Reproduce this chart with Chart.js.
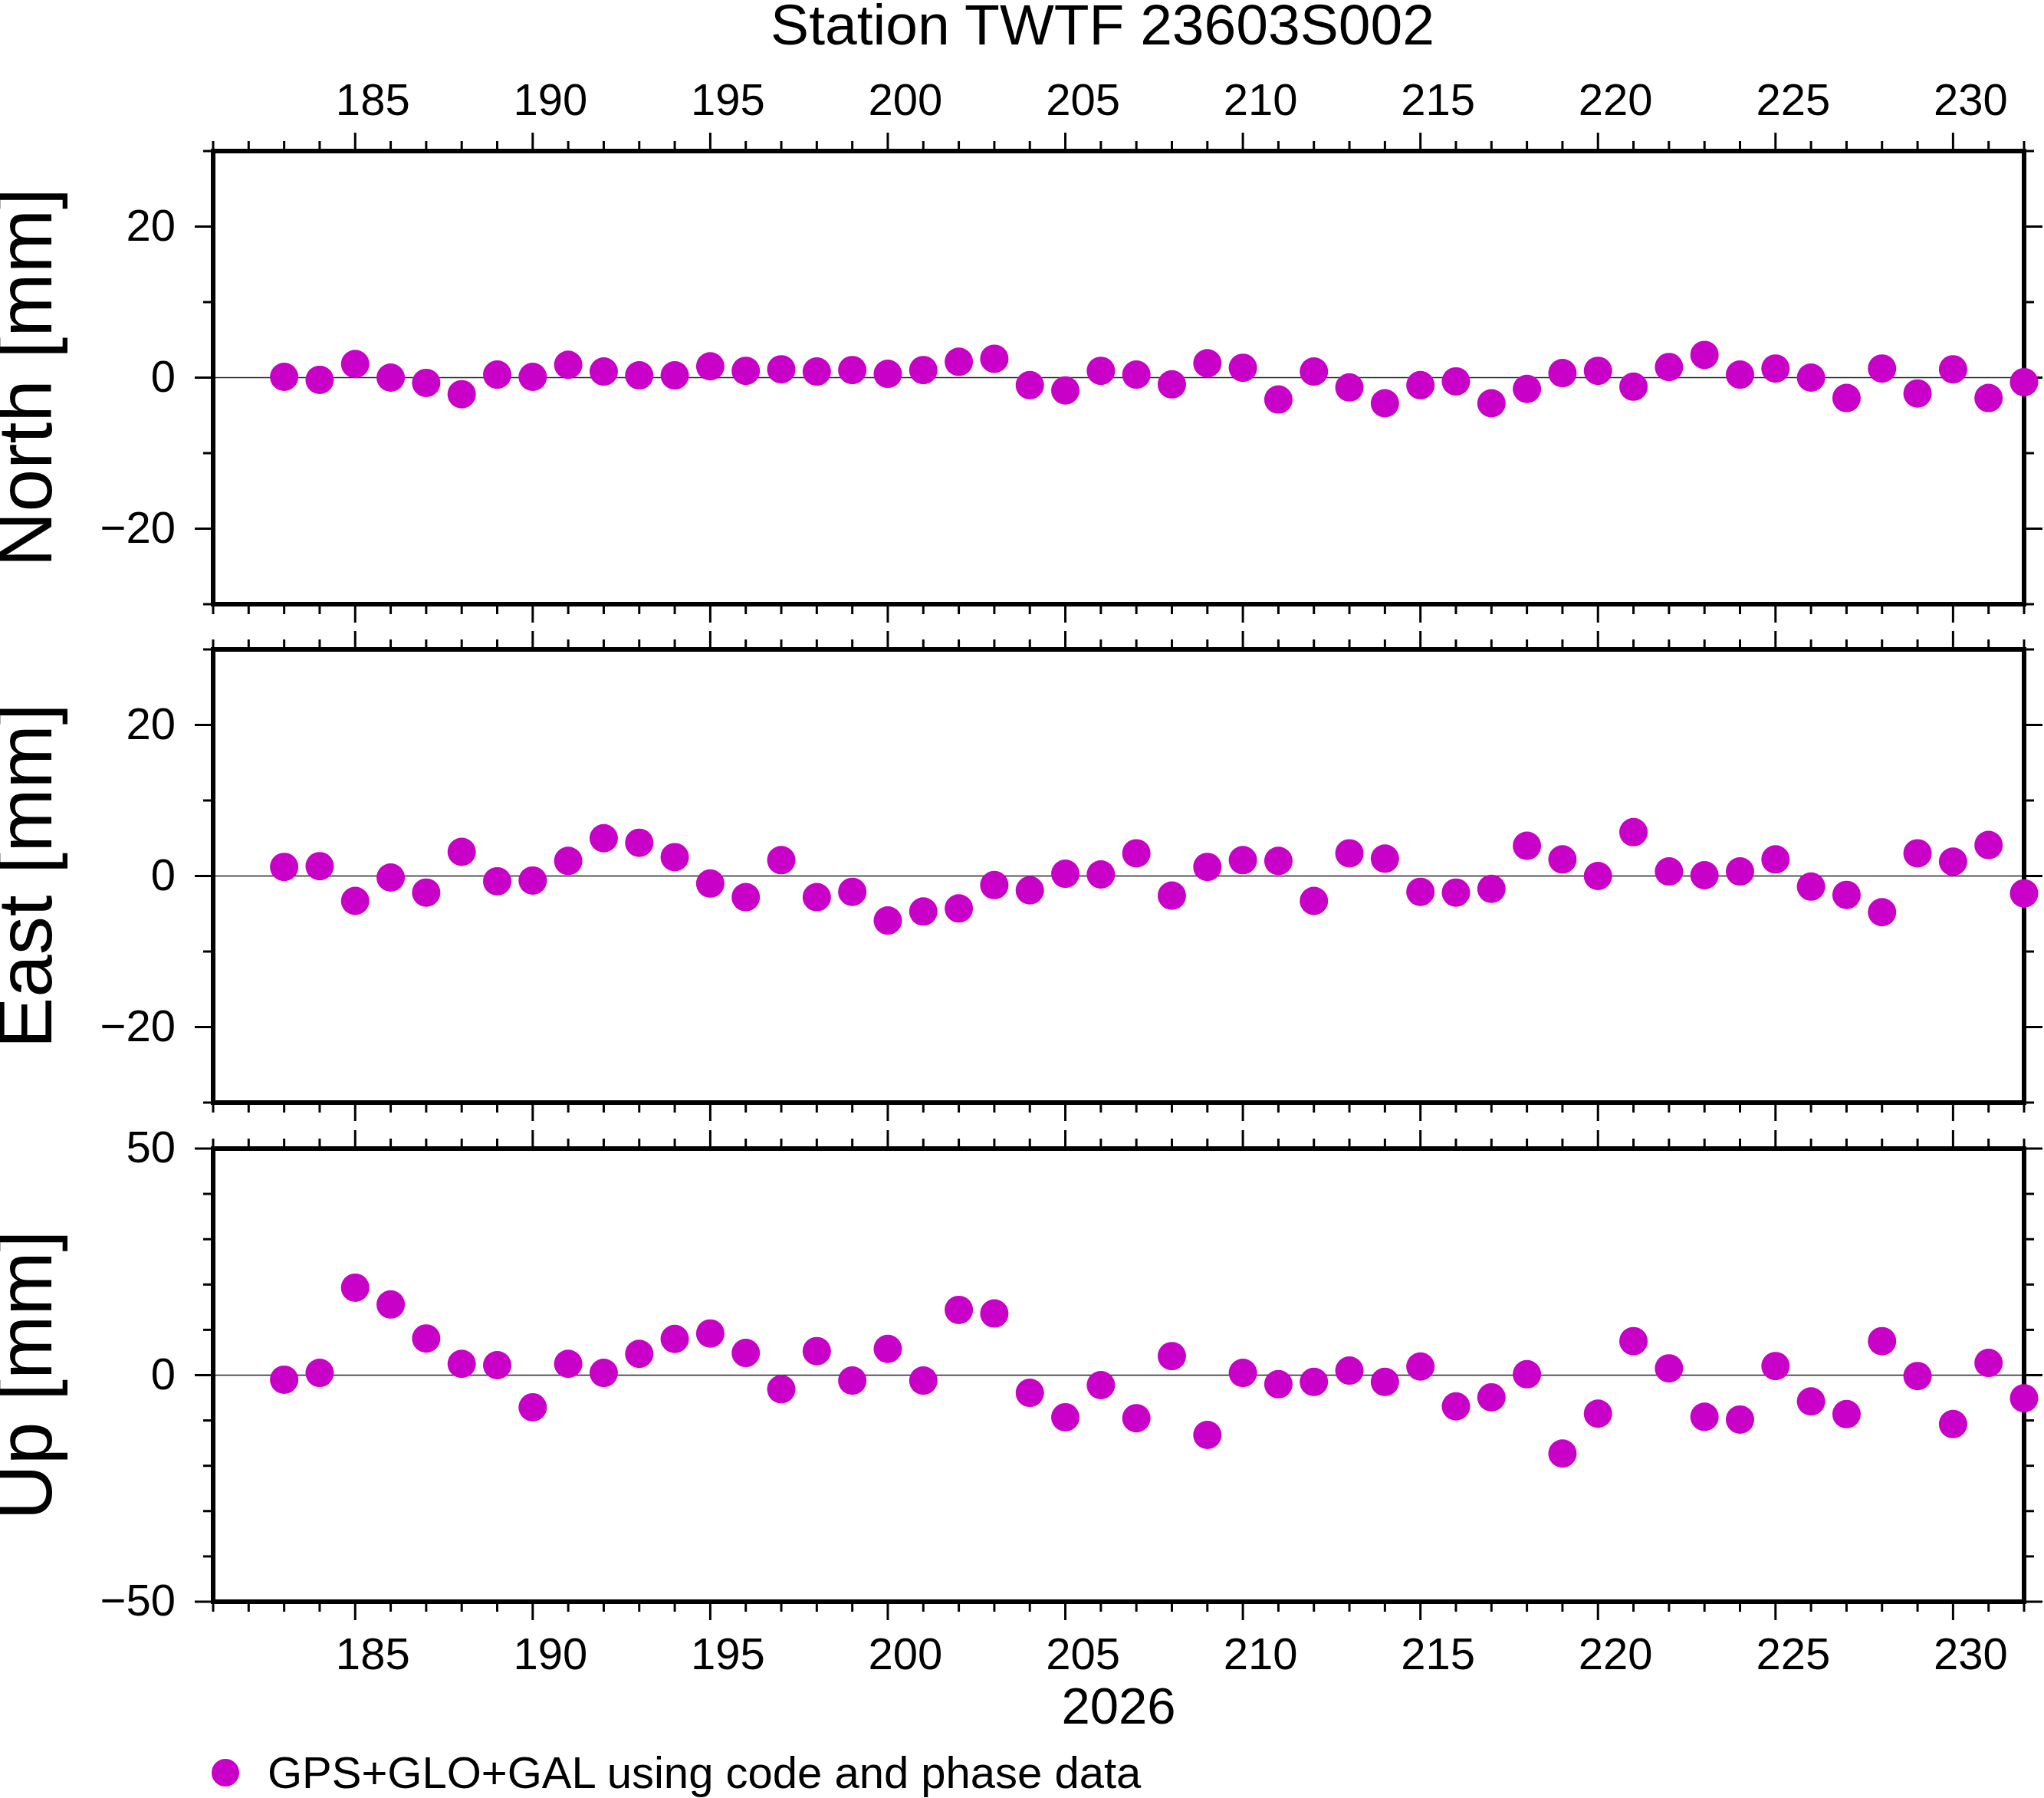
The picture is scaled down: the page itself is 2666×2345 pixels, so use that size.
<!DOCTYPE html>
<html>
<head>
<meta charset="utf-8">
<script src="https://cdn.jsdelivr.net/npm/chart.js@4.4.1/dist/chart.umd.min.js"></script>
<style>
  html, body { margin: 0; padding: 0; background: #fff; }
  #page { position: relative; width: 2666px; height: 2345px; overflow: hidden;
    font-family: "Liberation Sans", Arial, Helvetica, sans-serif; color: #000; }
  #page canvas { position: absolute; left: 0; top: 0; }
  .title { position: absolute; left: 1438px; top: -5px; transform: translateX(-50%);
    font-size: 75px; line-height: 1; white-space: nowrap; }
  .legend-dot { position: absolute; left: 276px; top: 2294px; width: 36px; height: 36px;
    border-radius: 50%; background: #c800c8; }
  .legend-text { position: absolute; left: 349px; top: 2283px; font-size: 58px;
    line-height: 1; white-space: nowrap; }
</style>
</head>
<body>
<div id="page">
  <canvas id="north" width="2666" height="2345"></canvas>
  <canvas id="east" width="2666" height="2345"></canvas>
  <canvas id="up" width="2666" height="2345"></canvas>
  <div class="title">Station TWTF 23603S002</div>
  <div class="legend-dot"></div>
  <div class="legend-text">GPS+GLO+GAL using code and phase data</div>
</div>
<script>
// day of year 2026
const DAYS = [
  183, 184, 185, 186, 187, 188, 189, 190, 191, 192,
  193, 194, 195, 196, 197, 198, 199, 200, 201, 202,
  203, 204, 205, 206, 207, 208, 209, 210, 211, 212,
  213, 214, 215, 216, 217, 218, 219, 220, 221, 222,
  223, 224, 225, 226, 227, 228, 229, 230, 231, 232,
];

// residuals in mm
const NORTH = [
  0.1, -0.3, 1.8, 0.0, -0.7, -2.2, 0.4, 0.1, 1.7, 0.8,
  0.3, 0.3, 1.5, 0.9, 1.1, 0.8, 1.0, 0.5, 1.0, 2.1,
  2.5, -1.0, -1.7, 0.9, 0.4, -0.9, 1.9, 1.3, -2.9, 0.8,
  -1.3, -3.4, -1.0, -0.5, -3.4, -1.5, 0.6, 0.9, -1.2, 1.4,
  3.0, 0.4, 1.2, 0.0, -2.7, 1.2, -2.1, 1.1, -2.7, -0.6,
];
const EAST = [
  1.2, 1.3, -3.3, -0.2, -2.2, 3.2, -0.7, -0.6, 2.0, 5.0,
  4.4, 2.5, -1.0, -2.8, 2.1, -2.8, -2.1, -5.9, -4.7, -4.3,
  -1.2, -1.9, 0.3, 0.2, 3.0, -2.6, 1.2, 2.1, 2.0, -3.3,
  3.0, 2.3, -2.1, -2.2, -1.7, 4.0, 2.2, 0.0, 5.8, 0.6,
  0.1, 0.6, 2.2, -1.4, -2.5, -4.8, 3.0, 1.9, 4.1, -2.3,
];
const UP = [
  -1.0, 0.5, 19.3, 15.6, 8.1, 2.5, 2.2, -7.1, 2.5, 0.5,
  4.7, 8.0, 9.2, 4.9, -3.1, 5.3, -1.2, 5.8, -1.2, 14.4,
  13.6, -3.9, -9.3, -2.2, -9.5, 4.2, -13.2, 0.5, -2.0, -1.5,
  1.0, -1.5, 1.9, -6.9, -4.9, 0.2, -17.3, -8.5, 7.5, 1.5,
  -9.2, -9.8, 2.0, -5.8, -8.6, 7.5, -0.2, -10.8, 2.7, -5.1,
];

const X_MIN = 181;
const X_MAX = 232;
const X_LABELS = [185, 190, 195, 200, 205, 210, 215, 220, 225, 230];
const NE_LABELS = [-20, 0, 20];
const UP_LABELS = [-50, 0, 50];
const Y_MINOR_STEP = 10;

const MAGENTA = "#c800c8";
const FONT = '"Liberation Sans", Arial, Helvetica, sans-serif';
const PAGE_H = 2345;

Chart.defaults.font.family = FONT;
Chart.defaults.color = "#000";

function fmtTick(v) {
  return v < 0 ? "\u2212" + Math.abs(v) : String(v);
}

function line(ctx, x1, y1, x2, y2) {
  ctx.beginPath();
  ctx.moveTo(x1, y1);
  ctx.lineTo(x2, y2);
  ctx.stroke();
}

// GMT-like frame: zero line, ticks on all four sides, thick border
const gmtFrame = {
  id: "gmtFrame",
  beforeDatasetsDraw(chart, args, opts) {
    const { ctx, chartArea: a, scales } = chart;
    const x = scales.x;
    const y = scales.y;
    ctx.save();
    ctx.strokeStyle = "#222";
    ctx.lineWidth = 1.5;
    const y0 = y.getPixelForValue(0);
    line(ctx, a.left, y0, a.right, y0);

    ctx.strokeStyle = "#000";
    ctx.lineWidth = 3;
    for (let d = X_MIN; d <= X_MAX; d++) {
      const px = x.getPixelForValue(d);
      const len = X_LABELS.includes(d) ? 24 : 13;
      line(ctx, px, a.top, px, a.top - len);
      line(ctx, px, a.bottom, px, a.bottom + len);
    }
    for (let v = opts.min; v <= opts.max; v += Y_MINOR_STEP) {
      const py = y.getPixelForValue(v);
      const len = opts.labels.includes(v) ? 24 : 13;
      line(ctx, a.left, py, a.left - len, py);
      line(ctx, a.right, py, a.right + len, py);
    }
    ctx.lineWidth = 6;
    ctx.strokeRect(a.left, a.top, a.right - a.left, a.bottom - a.top);
    ctx.restore();
  },
};

const PANELS = [
  { id: "north", label: "North [mm]", values: NORTH, min: -30, max: 30,
    labels: NE_LABELS, top: 197, bottom: 788, xPos: "top" },
  { id: "east", label: "East [mm]", values: EAST, min: -30, max: 30,
    labels: NE_LABELS, top: 847, bottom: 1438, xPos: null },
  { id: "up", label: "Up [mm]", values: UP, min: -50, max: 50,
    labels: UP_LABELS, top: 1498, bottom: 2089, xPos: "bottom" },
];

function makePanel(p) {
  const xh = p.xPos === "top" ? 120 : p.xPos === "bottom" ? 181 : 0;
  const padTop = p.xPos === "top" ? p.top - xh : p.top;
  const padBottom = p.xPos === "bottom" ? PAGE_H - p.bottom - xh : PAGE_H - p.bottom;

  return new Chart(document.getElementById(p.id), {
    type: "scatter",
    data: {
      datasets: [
        {
          label: "GPS+GLO+GAL using code and phase data",
          data: DAYS.map((d, i) => ({ x: d, y: p.values[i] })),
          backgroundColor: MAGENTA,
          borderWidth: 0,
          pointRadius: 18.5,
          pointHoverRadius: 18.5,
          clip: false,
        },
      ],
    },
    options: {
      responsive: false,
      animation: false,
      devicePixelRatio: 1,
      events: [],
      layout: { padding: { left: 0, right: 26, top: padTop, bottom: padBottom } },
      plugins: {
        legend: { display: false },
        tooltip: { enabled: false },
        gmtFrame: { min: p.min, max: p.max, labels: p.labels },
      },
      scales: {
        x: {
          type: "linear",
          display: p.xPos !== null,
          position: p.xPos || "bottom",
          min: X_MIN,
          max: X_MAX,
          afterBuildTicks: (s) => { s.ticks = X_LABELS.map((v) => ({ value: v })); },
          afterFit: (s) => { s.height = xh; },
          grid: { display: false, drawTicks: false },
          border: { display: false },
          ticks: {
            autoSkip: false,
            maxRotation: 0,
            minRotation: 0,
            labelOffset: 23,
            padding: p.xPos === "top" ? 28 : 37,
            font: { size: 58 },
            color: "#000",
            callback: (v) => fmtTick(v),
          },
          title: {
            display: p.xPos === "bottom",
            text: "2026",
            font: { size: 67 },
            color: "#000",
            padding: { top: 0, bottom: 0 },
          },
        },
        y: {
          type: "linear",
          position: "left",
          min: p.min,
          max: p.max,
          afterBuildTicks: (s) => { s.ticks = p.labels.map((v) => ({ value: v })); },
          afterFit: (s) => { s.width = 278; },
          grid: { display: false, drawTicks: false },
          border: { display: false },
          ticks: {
            padding: 49,
            labelOffset: 2,
            font: { size: 58 },
            color: "#000",
            callback: (v) => fmtTick(v),
          },
          title: {
            display: true,
            text: p.label,
            font: { size: 100, lineHeight: 0.78 },
            color: "#000",
            padding: { top: 0, bottom: 0 },
          },
        },
      },
    },
    plugins: [gmtFrame],
  });
}

PANELS.forEach(makePanel);
</script>
</body>
</html>
